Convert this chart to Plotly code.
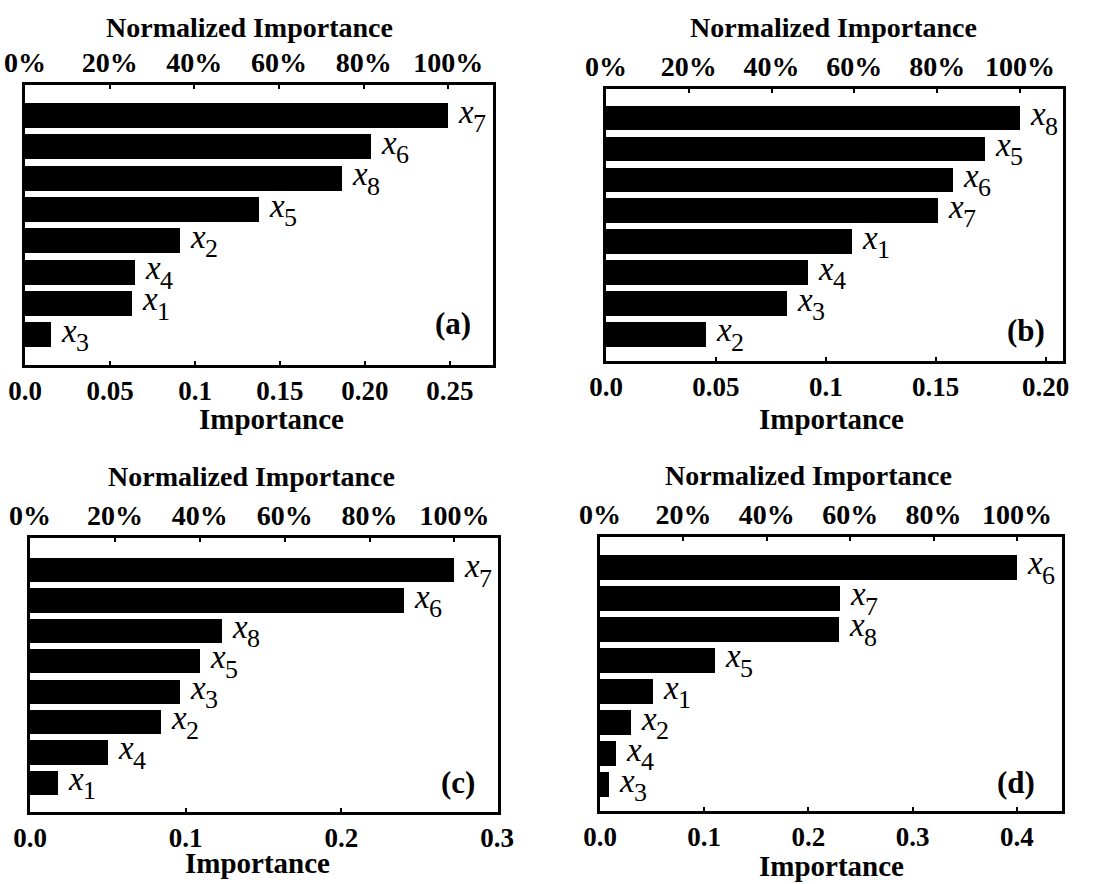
import plotly.graph_objects as go

W, H = 1119, 884

# ---------------- data (top bar first) ----------------
labels_a = ["x7", "x6", "x8", "x5", "x2", "x4", "x1", "x3"]
values_a = [0.249, 0.2035, 0.1865, 0.1377, 0.0912, 0.0647, 0.063, 0.0153]

labels_b = ["x8", "x5", "x6", "x7", "x1", "x4", "x3", "x2"]
values_b = [0.1883, 0.1724, 0.1577, 0.1509, 0.1118, 0.0918, 0.0823, 0.0455]

labels_c = ["x7", "x6", "x8", "x5", "x3", "x2", "x4", "x1"]
values_c = [0.2725, 0.240, 0.1232, 0.1093, 0.0964, 0.084, 0.0503, 0.0182]

labels_d = ["x6", "x7", "x8", "x5", "x1", "x2", "x4", "x3"]
values_d = [0.40, 0.2304, 0.2288, 0.1104, 0.0506, 0.0298, 0.0154, 0.009]

bottom_ticks_a = [0.0, 0.05, 0.1, 0.15, 0.20, 0.25]
bottom_text_a = ["0.0", "0.05", "0.1", "0.15", "0.20", "0.25"]
bottom_ticks_b = [0.0, 0.05, 0.1, 0.15, 0.20]
bottom_text_b = ["0.0", "0.05", "0.1", "0.15", "0.20"]
bottom_ticks_c = [0.0, 0.1, 0.2, 0.3]
bottom_text_c = ["0.0", "0.1", "0.2", "0.3"]
bottom_ticks_d = [0.0, 0.1, 0.2, 0.3, 0.4]
bottom_text_d = ["0.0", "0.1", "0.2", "0.3", "0.4"]

pct_ticks = [0, 20, 40, 60, 80, 100]
pct_text = ["0%", "20%", "40%", "60%", "80%", "100%"]

panel_tags = ["(a)", "(b)", "(c)", "(d)"]
top_title = "Normalized Importance"
bottom_title = "Importance"

# ---------------- layout geometry (pixels) ----------------
panels = [
    dict(labels=labels_a, values=values_a, bt=bottom_ticks_a, btx=bottom_text_a,
         box=(25, 493, 85, 365), xmax=0.2753, yr=(-0.97, 7.98),
         tag=(453, 323), ttl=(249, 27), btl=(271, 419)),
    dict(labels=labels_b, values=values_b, bt=bottom_ticks_b, btx=bottom_text_b,
         box=(606, 1063, 89, 361), xmax=0.2079, yr=(-0.86, 7.94),
         tag=(1026, 330), ttl=(833, 27), btl=(831, 419)),
    dict(labels=labels_c, values=values_c, bt=bottom_ticks_c, btx=bottom_text_c,
         box=(30, 498, 538, 812), xmax=0.3005, yr=(-0.96, 8.06),
         tag=(458, 782), ttl=(251, 476), btl=(257, 863)),
    dict(labels=labels_d, values=values_d, bt=bottom_ticks_d, btx=bottom_text_d,
         box=(600, 1062, 537, 811), xmax=0.4432, yr=(-0.84, 7.97),
         tag=(1016, 782), ttl=(808, 475), btl=(831, 866)),
]

SERIF = "Liberation Serif"
fig = go.Figure()
annotations = []
layout = {}

for i, p in enumerate(panels):
    k = i + 1
    xb = "x" if k == 1 else f"x{k}"
    yb = "y" if k == 1 else f"y{k}"
    xt_id = k + 4
    xt = f"x{xt_id}"
    n = len(p["values"])
    ypos = [n - 1 - j for j in range(n)]
    vmax = max(p["values"])

    fig.add_trace(go.Bar(
        x=p["values"], y=ypos, orientation="h", width=0.8,
        marker=dict(color="black", line=dict(width=0)),
        xaxis=xb, yaxis=yb, hoverinfo="skip", showlegend=False,
    ))
    # normalized values on the top axis (invisible, keeps the axis alive)
    fig.add_trace(go.Scatter(
        x=[v / vmax * 100 for v in p["values"]], y=ypos, mode="markers",
        marker=dict(opacity=0), xaxis=xt, yaxis=yb, hoverinfo="skip",
        showlegend=False,
    ))

    L, R, T, B = p["box"]
    dom_x = [L / W, R / W]
    dom_y = [1 - B / H, 1 - T / H]

    bfont = dict(family=SERIF, size=27, color="black", weight="bold")
    tfont = dict(family=SERIF, size=28, color="black", weight="bold")
    layout["xaxis" if k == 1 else f"xaxis{k}"] = dict(
        domain=dom_x, anchor=yb, range=[0, p["xmax"]],
        tickmode="array", tickvals=p["bt"], ticktext=p["btx"],
        ticks="inside", ticklen=4, tickwidth=2, tickcolor="black",
        showline=True, linewidth=3, linecolor="black", mirror=True,
        showgrid=False, zeroline=False, tickfont=bfont,
        ticklabelstandoff=0, fixedrange=True, automargin=False,
    )
    layout[f"xaxis{xt_id}"] = dict(
        overlaying=xb, anchor=yb, side="top",
        range=[0, p["xmax"] / vmax * 100],
        tickmode="array", tickvals=pct_ticks, ticktext=pct_text,
        ticks="inside", ticklen=4, tickwidth=2, tickcolor="black",
        showline=False, showgrid=False, zeroline=False, tickfont=tfont,
        ticklabelstandoff=6, fixedrange=True, automargin=False,
    )
    layout["yaxis" if k == 1 else f"yaxis{k}"] = dict(
        domain=dom_y, anchor=xb, range=list(p["yr"]),
        showticklabels=False, ticks="", showline=True, linewidth=3,
        linecolor="black", mirror=True, showgrid=False, zeroline=False,
        fixedrange=True, automargin=False,
    )

    # bar-end variable labels: italic x + subscript digit
    for lab, v, yy in zip(p["labels"], p["values"], ypos):
        annotations.append(dict(
            x=v, y=yy, xref=xb, yref=yb, text="<i>x</i>", showarrow=False,
            xanchor="left", yanchor="middle", xshift=8, yshift=4,
            font=dict(family=SERIF, size=33, color="black"),
        ))
        annotations.append(dict(
            x=v, y=yy, xref=xb, yref=yb, text=lab[1:], showarrow=False,
            xanchor="left", yanchor="middle", xshift=23, yshift=-8,
            font=dict(family=SERIF, size=26, color="black"),
        ))

    # panel tag
    annotations.append(dict(
        x=p["tag"][0] / W, y=1 - p["tag"][1] / H, xref="paper", yref="paper",
        text=panel_tags[i], showarrow=False, xanchor="center", yanchor="middle",
        font=dict(family=SERIF, size=31, color="black", weight="bold"),
    ))
    # axis titles
    annotations.append(dict(
        x=p["ttl"][0] / W, y=1 - p["ttl"][1] / H, xref="paper", yref="paper",
        text=top_title, showarrow=False, xanchor="center", yanchor="middle",
        font=dict(family=SERIF, size=28, color="black", weight="bold"),
    ))
    annotations.append(dict(
        x=p["btl"][0] / W, y=1 - p["btl"][1] / H, xref="paper", yref="paper",
        text=bottom_title, showarrow=False, xanchor="center", yanchor="middle",
        font=dict(family=SERIF, size=29, color="black", weight="bold"),
    ))

fig.update_layout(
    width=W, height=H, margin=dict(l=0, r=0, t=0, b=0, autoexpand=False),
    paper_bgcolor="white", plot_bgcolor="white", showlegend=False,
    annotations=annotations, bargap=0, **layout,
)

fig.write_html("out.html", config={"displayModeBar": False})
